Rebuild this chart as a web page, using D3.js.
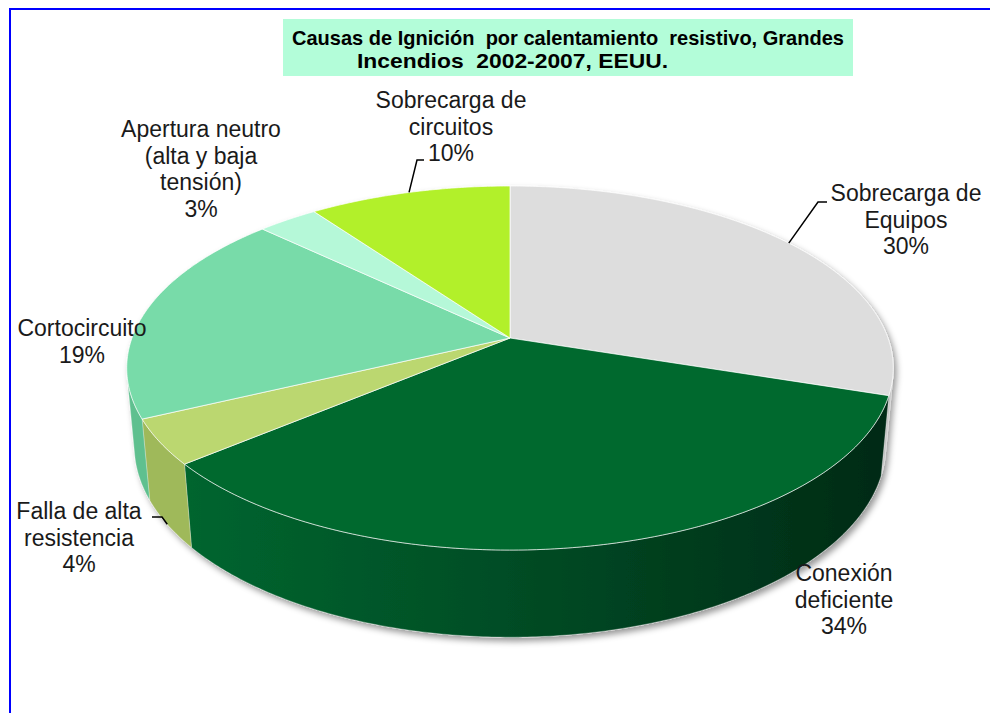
<!DOCTYPE html>
<html>
<head>
<meta charset="utf-8">
<script src="https://cdn.jsdelivr.net/npm/d3@7"></script>
<style>
  body { margin: 0; background: #fff; }
  text { font-family: "Liberation Sans", Arial, sans-serif; }
</style>
</head>
<body>
<script>
const categories = ["Sobrecarga de Equipos", "Conexión deficiente", "Falla de alta resistencia",
  "Cortocircuito", "Apertura neutro (alta y baja tensión)", "Sobrecarga de circuitos"];
const values = [30, 34, 4, 19, 3, 10];
const labelLines = [
  ["Sobrecarga de", "Equipos"],
  ["Conexión", "deficiente"],
  ["Falla de alta", "resistencia"],
  ["Cortocircuito"],
  ["Apertura neutro", "(alta y baja", "tensión)"],
  ["Sobrecarga de", "circuitos"]
];
const titleLines = ["Causas de Ignición  por calentamiento  resistivo, Grandes", "Incendios  2002-2007, EEUU."];

const topColors = ["#dddddd", "#02692f", "#bbd770", "#78dba9", "#b5f8d8", "#b2f02a"];
const wallColors = ["#c4c4c4", "#014a24", "#9fb95a", "#5fc08f", "#93d9b5", "#8fc61e"];

const width = 990, height = 713;

const svg = d3.select("body").append("svg")
  .attr("width", width)
  .attr("height", height);

// cadre bleu
svg.append("path")
  .attr("d", "M10,713V9H990")
  .attr("fill", "none")
  .attr("stroke", "#0000ff")
  .attr("stroke-width", 2);

// titre
svg.append("rect")
  .attr("x", 283).attr("y", 19)
  .attr("width", 570).attr("height", 57)
  .attr("fill", "#b3fdd9");

const titleFit = [[292, 45, 552], [357, 68, 311]];
svg.selectAll(".title")
  .data(titleLines)
  .enter()
  .append("text")
  .attr("class", "title")
  .attr("x", (d, i) => titleFit[i][0])
  .attr("y", (d, i) => titleFit[i][1])
  .attr("textLength", (d, i) => titleFit[i][2])
  .attr("lengthAdjust", "spacingAndGlyphs")
  .style("white-space", "pre")
  .attr("font-size", 20.5)
  .attr("font-weight", "bold")
  .attr("fill", "#000")
  .text(d => d);

// projection en perspective du camembert
const cx = 510, cy = 338, dist = 5.38, focal = 2071, kx = 0.982;
const sinT = 0.46, cosT = Math.sqrt(1 - sinT * sinT), thick = 0.23;

function project(a, h) {
  const x = Math.sin(a), z = -Math.cos(a);
  const Y = h * cosT - z * sinT;
  const d = h * sinT + z * cosT;
  const s = focal / (dist - d);
  return [cx + x * s * kx, cy - Y * s];
}

function arcPts(a0, a1, h) {
  const n = Math.max(2, Math.ceil(Math.abs(a1 - a0) / 0.01));
  return d3.range(n + 1).map(i => project(a0 + (a1 - a0) * i / n, h));
}

const arcs = d3.pie().sort(null).startAngle(0).endAngle(2 * Math.PI)(values);
const line = d3.line();

const defs = svg.append("defs");
const shadow = defs.append("filter").attr("id", "shadow")
  .attr("x", "-10%").attr("y", "-10%").attr("width", "120%").attr("height", "130%");
shadow.append("feDropShadow")
  .attr("dx", 3).attr("dy", 4)
  .attr("stdDeviation", 3)
  .attr("flood-color", "#000")
  .attr("flood-opacity", 0.4);

const grad = defs.append("linearGradient").attr("id", "wallGrad")
  .attr("gradientUnits", "userSpaceOnUse")
  .attr("x1", 190).attr("y1", 0).attr("x2", 890).attr("y2", 0);
grad.append("stop").attr("offset", 0).attr("stop-color", "#04652f");
grad.append("stop").attr("offset", 0.45).attr("stop-color", "#014d25");
grad.append("stop").attr("offset", 1).attr("stop-color", "#002a15");

const pieG = svg.append("g").attr("filter", "url(#shadow)");

// parois visibles
const silA = Math.acos(-1 / (dist * cosT)), silB = 2 * Math.PI - silA;
arcs.forEach((d, i) => {
  const a0 = Math.max(d.startAngle, silA), a1 = Math.min(d.endAngle, silB);
  if (a1 <= a0) return;
  const pts = arcPts(a0, a1, 0).concat(arcPts(a1, a0, -thick));
  pieG.append("path")
    .attr("d", line(pts) + "Z")
    .attr("fill", i === 1 ? "url(#wallGrad)" : wallColors[i])
    .attr("stroke", "#fff")
    .attr("stroke-opacity", 0.35)
    .attr("stroke-width", 0.8);
});

// dessus
arcs.forEach((d, i) => {
  const pts = [[cx, cy]].concat(arcPts(d.startAngle, d.endAngle, 0));
  pieG.append("path")
    .attr("d", line(pts) + "Z")
    .attr("fill", topColors[i])
    .attr("stroke", "#fff")
    .attr("stroke-opacity", 0.7)
    .attr("stroke-width", 1);
});

// étiquettes
const labelPos = [[906, 201], [844, 581], [79, 519], [82, 336], [201, 137], [451, 108]];
const lineH = 26.5;

arcs.forEach((d, i) => {
  const t = svg.append("text")
    .attr("text-anchor", "middle")
    .attr("font-size", 23)
    .attr("fill", "#1a1a1a");
  labelLines[i].concat([values[i] + "%"]).forEach((s, k) => {
    t.append("tspan")
      .attr("x", labelPos[i][0])
      .attr("y", labelPos[i][1] + k * lineH)
      .text(s);
  });
});

// lignes de rappel
const leaders = [
  { i: 0, h: 0, pts: [[818, 202], [827, 202]] },
  { i: 5, h: 0, pts: [[417, 160], [424, 160]] },
  { i: 2, h: -thick, pts: [[162, 517], [152, 517]] }
];
leaders.forEach(l => {
  const d = arcs[l.i];
  const start = project((d.startAngle + d.endAngle) / 2, l.h);
  svg.append("path")
    .attr("d", line([start].concat(l.pts)))
    .attr("fill", "none")
    .attr("stroke", "#000")
    .attr("stroke-width", 1.5);
});
</script>
</body>
</html>
